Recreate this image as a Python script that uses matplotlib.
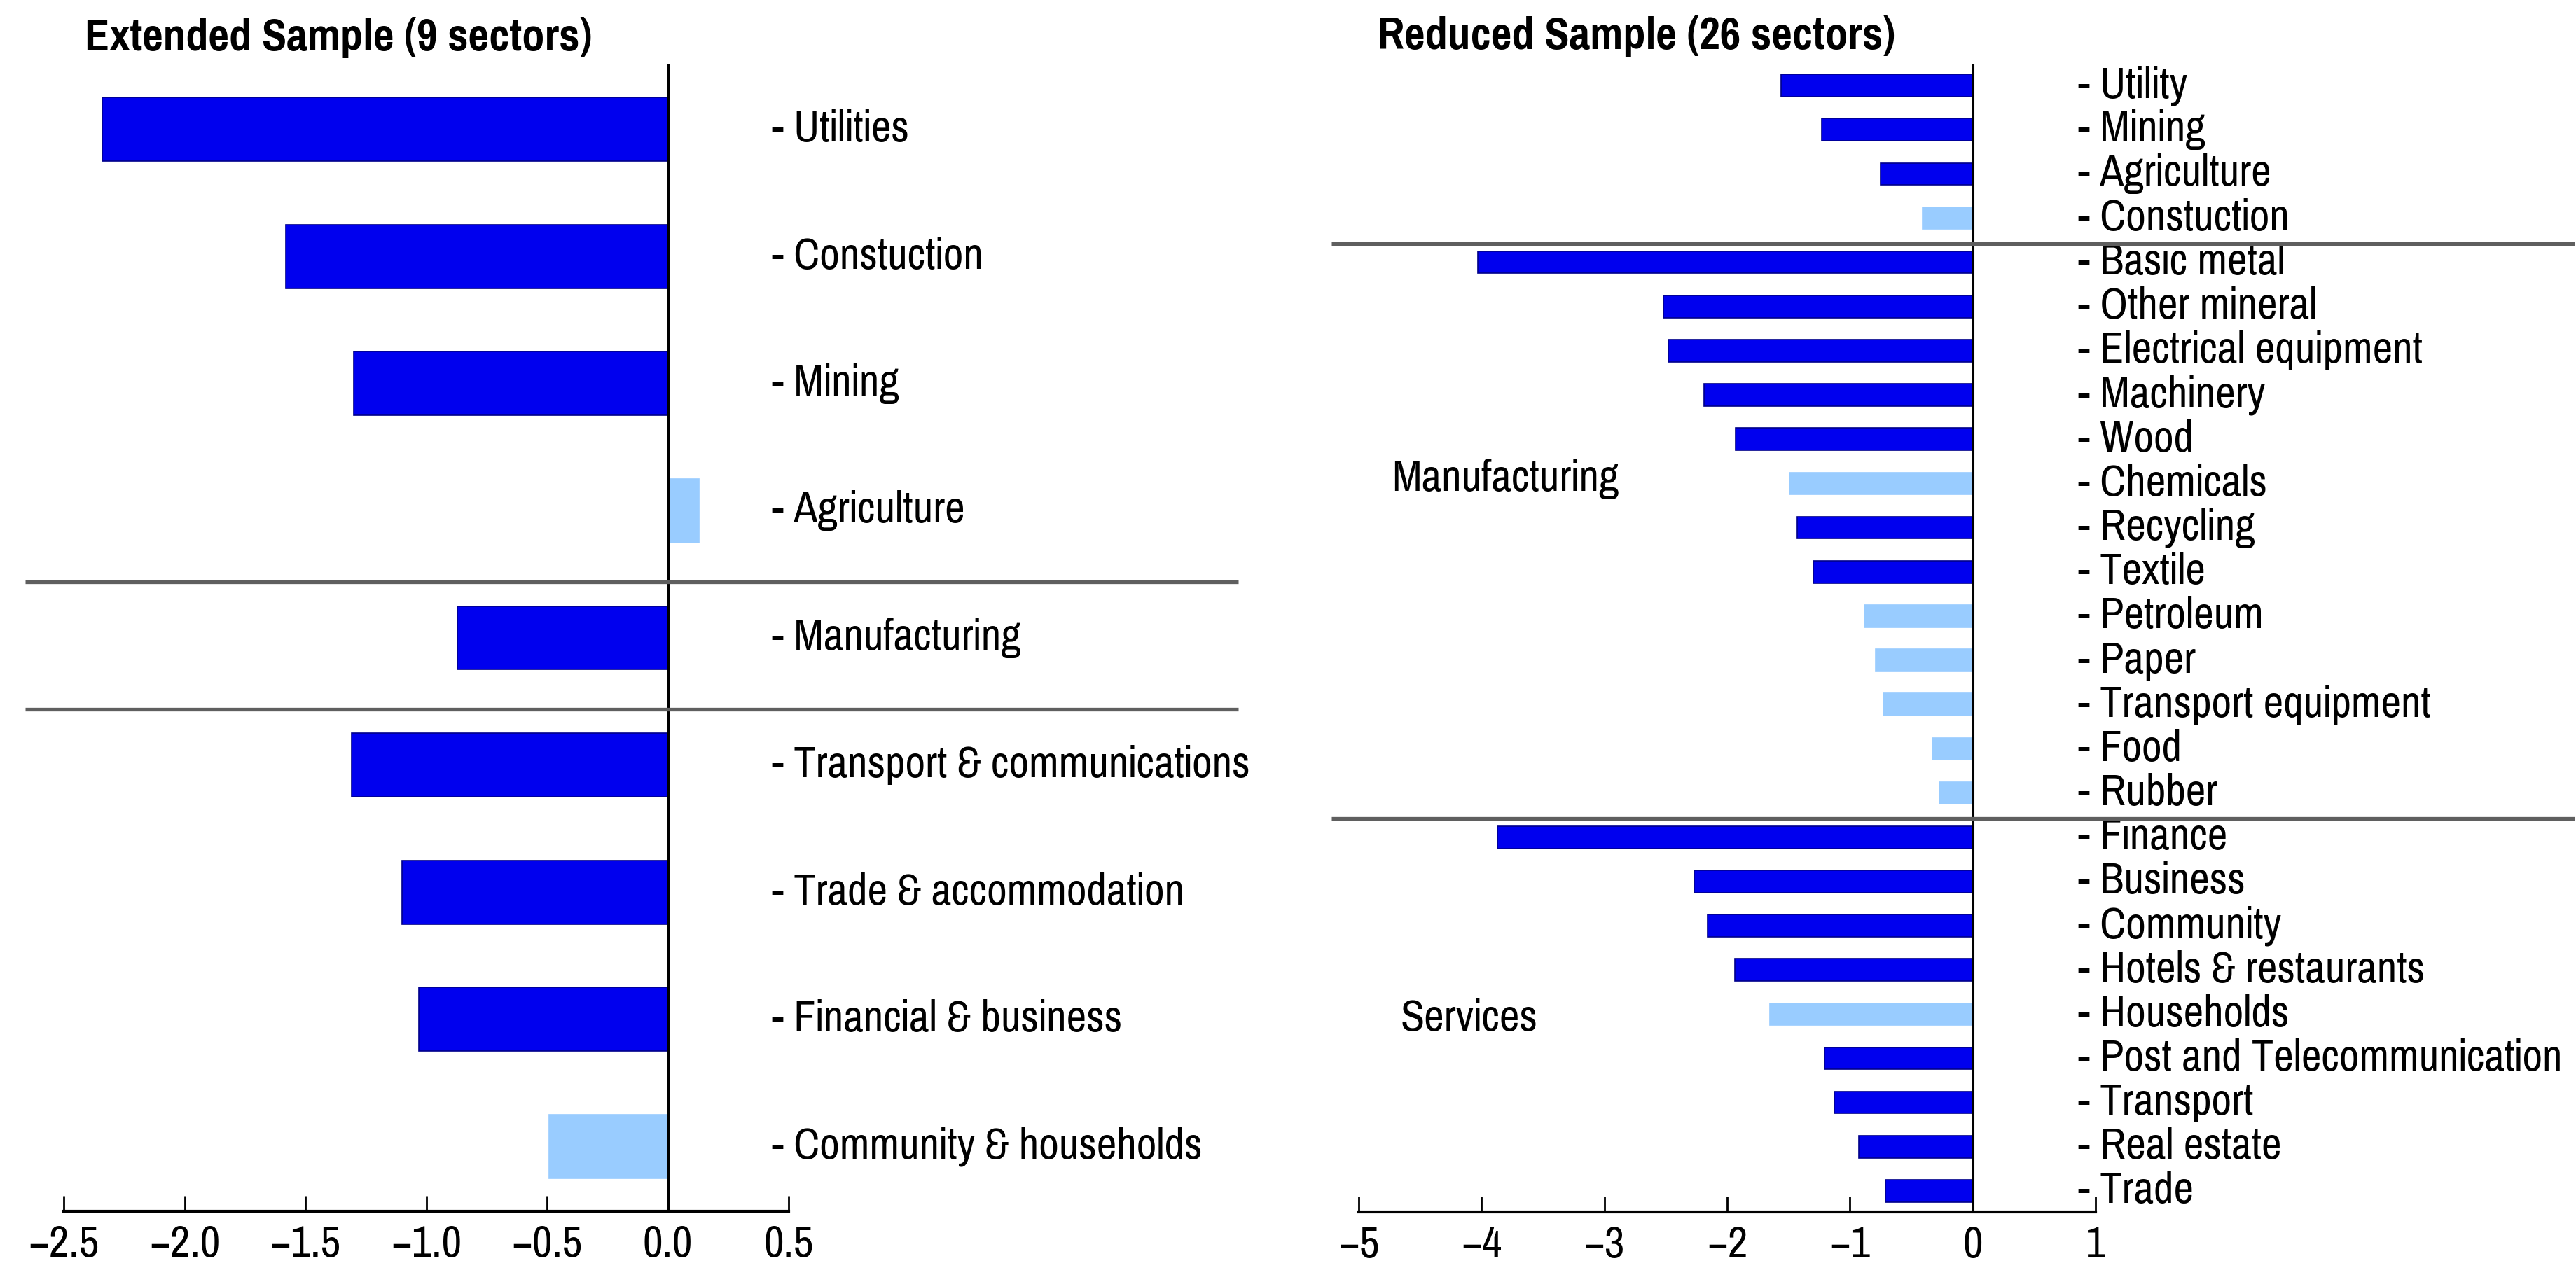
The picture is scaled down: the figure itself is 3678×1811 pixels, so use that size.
import matplotlib
matplotlib.use("Agg")
import matplotlib.pyplot as plt
import matplotlib.font_manager as fm

# the original uses an Arial Narrow look, take the first narrow family we have
installed = {f.name for f in fm.fontManager.ttflist}
candidates = ["Arial Narrow", "Liberation Sans Narrow", "Pragati Narrow", "Roboto Condensed",
              "Archivo Narrow", "PT Sans Narrow", "Open Sans Condensed",
              "IBM Plex Sans Condensed", "Liberation Sans"]
narrow = next(c for c in candidates if c in installed)
plt.rcParams['font.family'] = [narrow, 'DejaVu Sans']

dark_blue = "#0000EE"
light_blue = "#99CCFF"

# extended sample (top to bottom)
ext_sectors = ["Utilities", "Constuction", "Mining", "Agriculture", "Manufacturing",
               "Transport & communications", "Trade & accommodation",
               "Financial & business", "Community & households"]
ext_values = [-2.34, -1.58, -1.30, 0.13, -0.87, -1.31, -1.10, -1.03, -0.49]
ext_signif = [True, True, True, False, True, True, True, True, False]

# reduced sample (top to bottom)
red_sectors = ["Utility", "Mining", "Agriculture", "Constuction",
               "Basic metal", "Other mineral", "Electrical equipment", "Machinery",
               "Wood", "Chemicals", "Recycling", "Textile", "Petroleum", "Paper",
               "Transport equipment", "Food", "Rubber",
               "Finance", "Business", "Community", "Hotels & restaurants",
               "Households", "Post and Telecommunication", "Transport",
               "Real estate", "Trade"]
red_values = [-1.56, -1.23, -0.75, -0.41,
              -4.03, -2.52, -2.48, -2.19, -1.93, -1.49, -1.43, -1.30,
              -0.88, -0.79, -0.73, -0.33, -0.27,
              -3.87, -2.27, -2.16, -1.94, -1.65, -1.21, -1.13, -0.93, -0.71]
red_signif = [True, True, True, False,
              True, True, True, True, True, False, True, True,
              False, False, False, False, False,
              True, True, True, True, False, True, True, True, True]

ext_ticks = [-2.5, -2.0, -1.5, -1.0, -0.5, 0.0, 0.5]
red_ticks = [-5, -4, -3, -2, -1, 0, 1]

W, H = 3678, 1811
fig = plt.figure(figsize=(W / 100, H / 100), dpi=100)
renderer = fig.canvas.get_renderer()


def fit_size(s, target_px, base=44, **kw):
    # font size so that the string is about target_px wide
    t = fig.text(0, 0, s, fontsize=base, **kw)
    w = t.get_window_extent(renderer).width
    t.remove()
    return base * target_px / w


label_size = min(fit_size("- Transport & communications", 682), 52)
title_size = min(fit_size("Extended Sample (9 sectors)", 724, fontweight="bold"), 54)
tick_size = label_size


def px_axes(x0, x1, y0, y1):
    # axes from pixel box (y measured from top)
    return fig.add_axes([x0 / W, 1 - y1 / H, (x1 - x0) / W, (y1 - y0) / H])


def draw_panel(ax, sectors, values, signif, ticks, xlim, ylim_pad, label_x, seps, sep_x):
    n = len(sectors)
    ypos = list(range(n - 1, -1, -1))
    colors = [dark_blue if s else light_blue for s in signif]
    edges = ["#00008B" if s else light_blue for s in signif]
    ax.barh(ypos, values, height=0.5, color=colors, edgecolor=edges, linewidth=1.2, zorder=2)
    ax.axvline(0, color="black", lw=2.2, zorder=3)
    ax.set_xlim(*xlim)
    ax.set_ylim(-ylim_pad, n - 1 + ylim_pad)
    ax.set_yticks([])
    ax.set_xticks(ticks)
    for sp in ["top", "right", "left"]:
        ax.spines[sp].set_visible(False)
    ax.spines["bottom"].set_linewidth(3)
    ax.tick_params(axis="x", direction="in", length=16, width=2, pad=14, labelsize=tick_size)
    for y, name in zip(ypos, sectors):
        ax.text(label_x, y, "- " + name, fontsize=label_size, ha="left", va="center", clip_on=False)
    for y in seps:
        ax.plot(sep_x, [y, y], color="#5f5f5f", lw=3.8, clip_on=False, zorder=4,
                solid_capstyle="butt")


ax1 = px_axes(91, 1126, 92, 1730)
draw_panel(ax1, ext_sectors, ext_values, ext_signif, ext_ticks, (-2.5, 0.5), 0.51,
           0.43, [4.44, 3.44], [-2.66, 2.36])
ax1.set_xticklabels(["%.1f" % t if t >= 0 else "\u2212%.1f" % -t for t in ext_ticks])

ax2 = px_axes(1940, 2992, 92, 1731)
draw_panel(ax2, red_sectors, red_values, red_signif, red_ticks, (-5, 1), 0.475,
           0.86, [21.42, 8.42], [-5.22, 4.9])
ax2.text(-4.73, 16.1, "Manufacturing", fontsize=label_size, ha="left", va="center")
ax2.text(-4.66, 3.9, "Services", fontsize=label_size, ha="left", va="center")

fig.text(121 / W, 1 - 72 / H, "Extended Sample (9 sectors)", fontsize=title_size,
         fontweight="bold", ha="left", va="baseline")
fig.text(1967 / W, 1 - 70 / H, "Reduced Sample (26 sectors)", fontsize=title_size,
         fontweight="bold", ha="left", va="baseline")

fig.savefig("out.png", dpi=100)
